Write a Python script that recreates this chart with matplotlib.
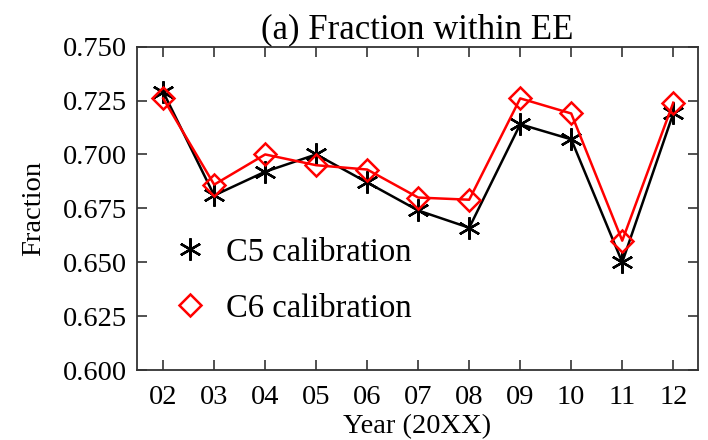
import numpy as np
import matplotlib
matplotlib.use("Agg")
import matplotlib.pyplot as plt

# years 2002..2012, shown as two-digit labels
years = [2, 3, 4, 5, 6, 7, 8, 9, 10, 11, 12]
year_labels = ["02", "03", "04", "05", "06", "07", "08", "09", "10", "11", "12"]

c5_fraction = [0.729, 0.681, 0.692, 0.700, 0.687, 0.674, 0.666, 0.714, 0.707, 0.650, 0.719]
c6_fraction = [0.726, 0.686, 0.700, 0.695, 0.693, 0.680, 0.679, 0.726, 0.719, 0.660, 0.724]

y_ticks = [0.600, 0.625, 0.650, 0.675, 0.700, 0.725, 0.750]

plt.rcParams['font.family'] = ['Liberation Serif', 'DejaVu Serif']

fig = plt.figure(figsize=(7.08, 4.40), dpi=100)
ax = fig.add_axes([0.193, 0.159, 0.7925, 0.735])

ax.plot(years, c5_fraction, color='black', lw=1.8, marker=(6, 2, 0),
        markersize=16, markeredgewidth=1.7, label='C5 calibration')
ax.plot(years, c6_fraction, color='red', lw=1.8, marker='D',
        markersize=11.5, markeredgewidth=1.8, markerfacecolor='none',
        label='C6 calibration')

ax.set_xlim(1.48, 12.48)
ax.set_ylim(0.600, 0.750)
ax.set_xticks(years)
ax.set_xticklabels(year_labels)
ax.set_yticks(y_ticks)
ax.set_yticklabels(["%.3f" % v for v in y_ticks])

ax.tick_params(direction='in', length=7, width=1.2, labelsize=20.5,
               top=True, right=True, color='#333333')
ax.tick_params(axis='x', pad=11)
ax.tick_params(axis='y', pad=7)
for s in ax.spines.values():
  s.set_linewidth(1.3)
  s.set_color('#333333')

ax.set_title("(a) Fraction within EE", fontsize=25, pad=6)
ax.set_xlabel("Year (20XX)", fontsize=20.5, labelpad=3)
ax.set_ylabel("Fraction", fontsize=20.5, labelpad=12)

ax.legend(loc='center left', bbox_to_anchor=(0.066, 0.277), frameon=False,
          fontsize=23.5, handlelength=1.0, handletextpad=0.6,
          labelspacing=0.78, borderpad=0, borderaxespad=0)
# legend shows markers only
for h in ax.get_legend().legend_handles:
  h.set_linestyle('none')

fig.savefig("out.png", dpi=100)
